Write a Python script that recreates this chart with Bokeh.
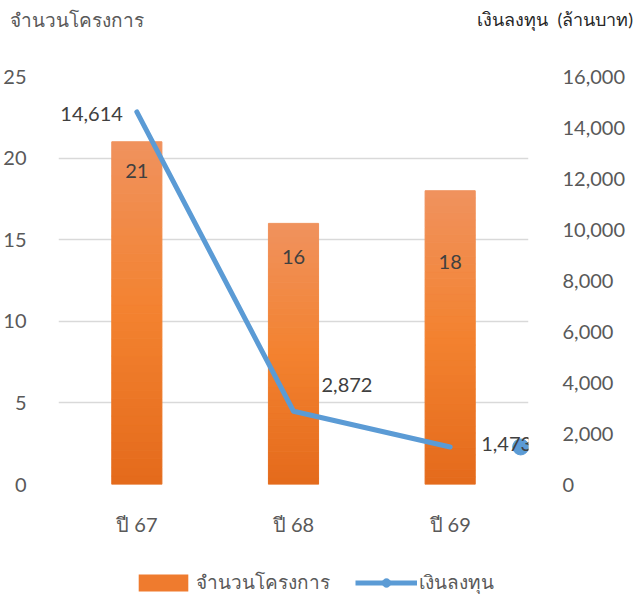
from bokeh.plotting import figure
from bokeh.layouts import column
from bokeh.models import (Range1d, LinearAxis, FixedTicker, NumeralTickFormatter,
                          Legend, LegendItem, ColumnDataSource, FactorRange, Div)
from bokeh.embed import file_html
from bokeh.resources import INLINE
from bokeh.core.properties import value

# ---- data ----
categories = ["ปี 67", "ปี 68", "ปี 69"]
projects = [21, 16, 18]                 # จำนวนโครงการ
investment = [14614, 2872, 1473]        # เงินลงทุน (ล้านบาท)
left_ticks = [0, 5, 10, 15, 20, 25]
right_ticks = [0, 2000, 4000, 6000, 8000, 10000, 12000, 14000, 16000]
bar_series_name = "จำนวนโครงการ"
line_series_name = "เงินลงทุน"
left_title = "จำนวนโครงการ"
right_title = "เงินลงทุน  (ล้านบาท)"

FONT = "Lato"
TXT = "#595959"
FS = "20px"
BAR_TOP, BAR_MID, BAR_BOT = "#F0925E", "#F3822F", "#E46A1C"
LINE_C = "#5B9BD5"

# ---- header with the two axis titles ----
hdr = Div(text=(f'<div style="display:flex;justify-content:space-between;align-items:center;'
                f'width:633px;height:40px;padding-left:10px;font-family:{FONT};">'
                f'<span style="color:{TXT};font-size:19px;">{left_title}</span>'
                f'<span style="color:#262626;font-size:18px;white-space:pre;">{right_title}</span></div>'),
          width=635, height=40, margin=0)

# ---- main chart ----
p = figure(x_range=FactorRange(*categories), y_range=Range1d(0, 25),
           frame_width=470, frame_height=408, output_backend="svg", toolbar_location=None,
           min_border_left=49, min_border_right=100, min_border_top=36, min_border_bottom=0)
p.outline_line_color = None
p.extra_y_ranges = {"inv": Range1d(0, 16000)}

ya = p.yaxis[0]
ya.ticker = FixedTicker(ticks=left_ticks)
ya.axis_line_color = None
ya.major_tick_line_color = None
ya.minor_tick_line_color = None
ya.major_label_text_font = FONT
ya.major_label_text_font_size = FS
ya.major_label_text_color = TXT
ya.major_label_standoff = 26

ra = LinearAxis(y_range_name="inv", ticker=FixedTicker(ticks=right_ticks),
                formatter=NumeralTickFormatter(format="0,0"))
ra.axis_line_color = None
ra.major_tick_line_color = None
ra.minor_tick_line_color = None
ra.major_label_text_font = FONT
ra.major_label_text_font_size = FS
ra.major_label_text_color = TXT
ra.major_label_standoff = 28
p.add_layout(ra, "right")

xa = p.xaxis[0]
xa.axis_line_color = None
xa.major_tick_line_color = None
xa.major_label_text_font = FONT
xa.major_label_text_font_size = FS
xa.major_label_text_color = TXT
xa.major_label_standoff = 21

p.xgrid.grid_line_color = None
p.ygrid.ticker = FixedTicker(ticks=left_ticks)
p.ygrid.grid_line_color = "#D9D9D9"
p.ygrid.grid_line_width = 1.5

# ---- gradient bars (bands computed from data) ----
def lerp(c1, c2, t):
    a = [int(c1[i:i+2], 16) for i in (1, 3, 5)]
    b = [int(c2[i:i+2], 16) for i in (1, 3, 5)]
    return "#%02x%02x%02x" % tuple(round(a[i] + (b[i] - a[i]) * t) for i in range(3))

N = 40
bx, bb, bt, bc = [], [], [], []
for c, v in zip(categories, projects):
    for k in range(N):
        f = (k + 0.5) / N
        col = lerp(BAR_BOT, BAR_MID, f / 0.5) if f < 0.5 else lerp(BAR_MID, BAR_TOP, (f - 0.5) / 0.5)
        bx.append(c); bb.append(v * k / N); bt.append(v * (k + 1) / N); bc.append(col)

bands = ColumnDataSource(dict(x=bx, bottom=bb, top=bt, color=bc))
p.vbar(x="x", bottom="bottom", top="top", width=0.32, source=bands,
       fill_color="color", line_color="color", line_width=1)

bar_label_dy = [29, 34, 71]
for c, v, dy in zip(categories, projects, bar_label_dy):
    p.text(x=[c], y=[v], text=[str(v)], text_font=value(FONT), text_font_size=FS,
           text_color="#404040", text_align="center", text_baseline="middle",
           y_offset=dy)

# ---- line ----
p.line(x=categories, y=investment, y_range_name="inv", line_width=5,
       line_color=LINE_C, line_join="round", line_cap="round")
p.scatter(x=[(categories[-1], 0.45)], y=[investment[-1]], y_range_name="inv",
          size=16, fill_color=LINE_C, line_color=LINE_C)

line_label_align = ["right", "left", "left"]
line_label_dx = [-14, 28, 31]
line_label_dy = [2, -26, -3]
for c, v, al, dx, dy in zip(categories, investment, line_label_align, line_label_dx, line_label_dy):
    p.text(x=[c], y=[v], y_range_name="inv", text=[f"{v:,}"], text_font=value(FONT),
           text_font_size=FS, text_color="#404040", text_align=al,
           text_baseline="middle", x_offset=dx, y_offset=dy)

# ---- footer with the legend (legend proxies hold NaN, so nothing is drawn) ----
NAN = float("nan")
ftr = figure(width=619, height=60, x_range=Range1d(0, 1), y_range=Range1d(0, 1),
             x_axis_type=None, y_axis_type=None, output_backend="svg",
             toolbar_location=None, min_border=0)
ftr.outline_line_color = None
ftr.grid.visible = False
lg_bar = ftr.vbar(x=[NAN], top=[NAN], width=0.1, fill_color="#EF7B2E", line_color=None)
lg_line = ftr.line(x=[NAN], y=[NAN], line_width=5, line_color=LINE_C)
lg_mark = ftr.scatter(x=[NAN], y=[NAN], size=13, fill_color=LINE_C, line_color=LINE_C)
legend = Legend(items=[LegendItem(label=bar_series_name, renderers=[lg_bar]),
                       LegendItem(label=line_series_name, renderers=[lg_line, lg_mark])],
                orientation="horizontal", location=(74, 1),
                label_text_font=FONT, label_text_font_size="19px", label_text_color=TXT,
                glyph_width=62, glyph_height=21, spacing=25, label_standoff=2,
                border_line_color=None, background_fill_alpha=0, margin=0, padding=2)
ftr.add_layout(legend, "center")

layout = column(hdr, p, ftr, spacing=0)
open("out.html", "w").write(file_html(layout, INLINE))
